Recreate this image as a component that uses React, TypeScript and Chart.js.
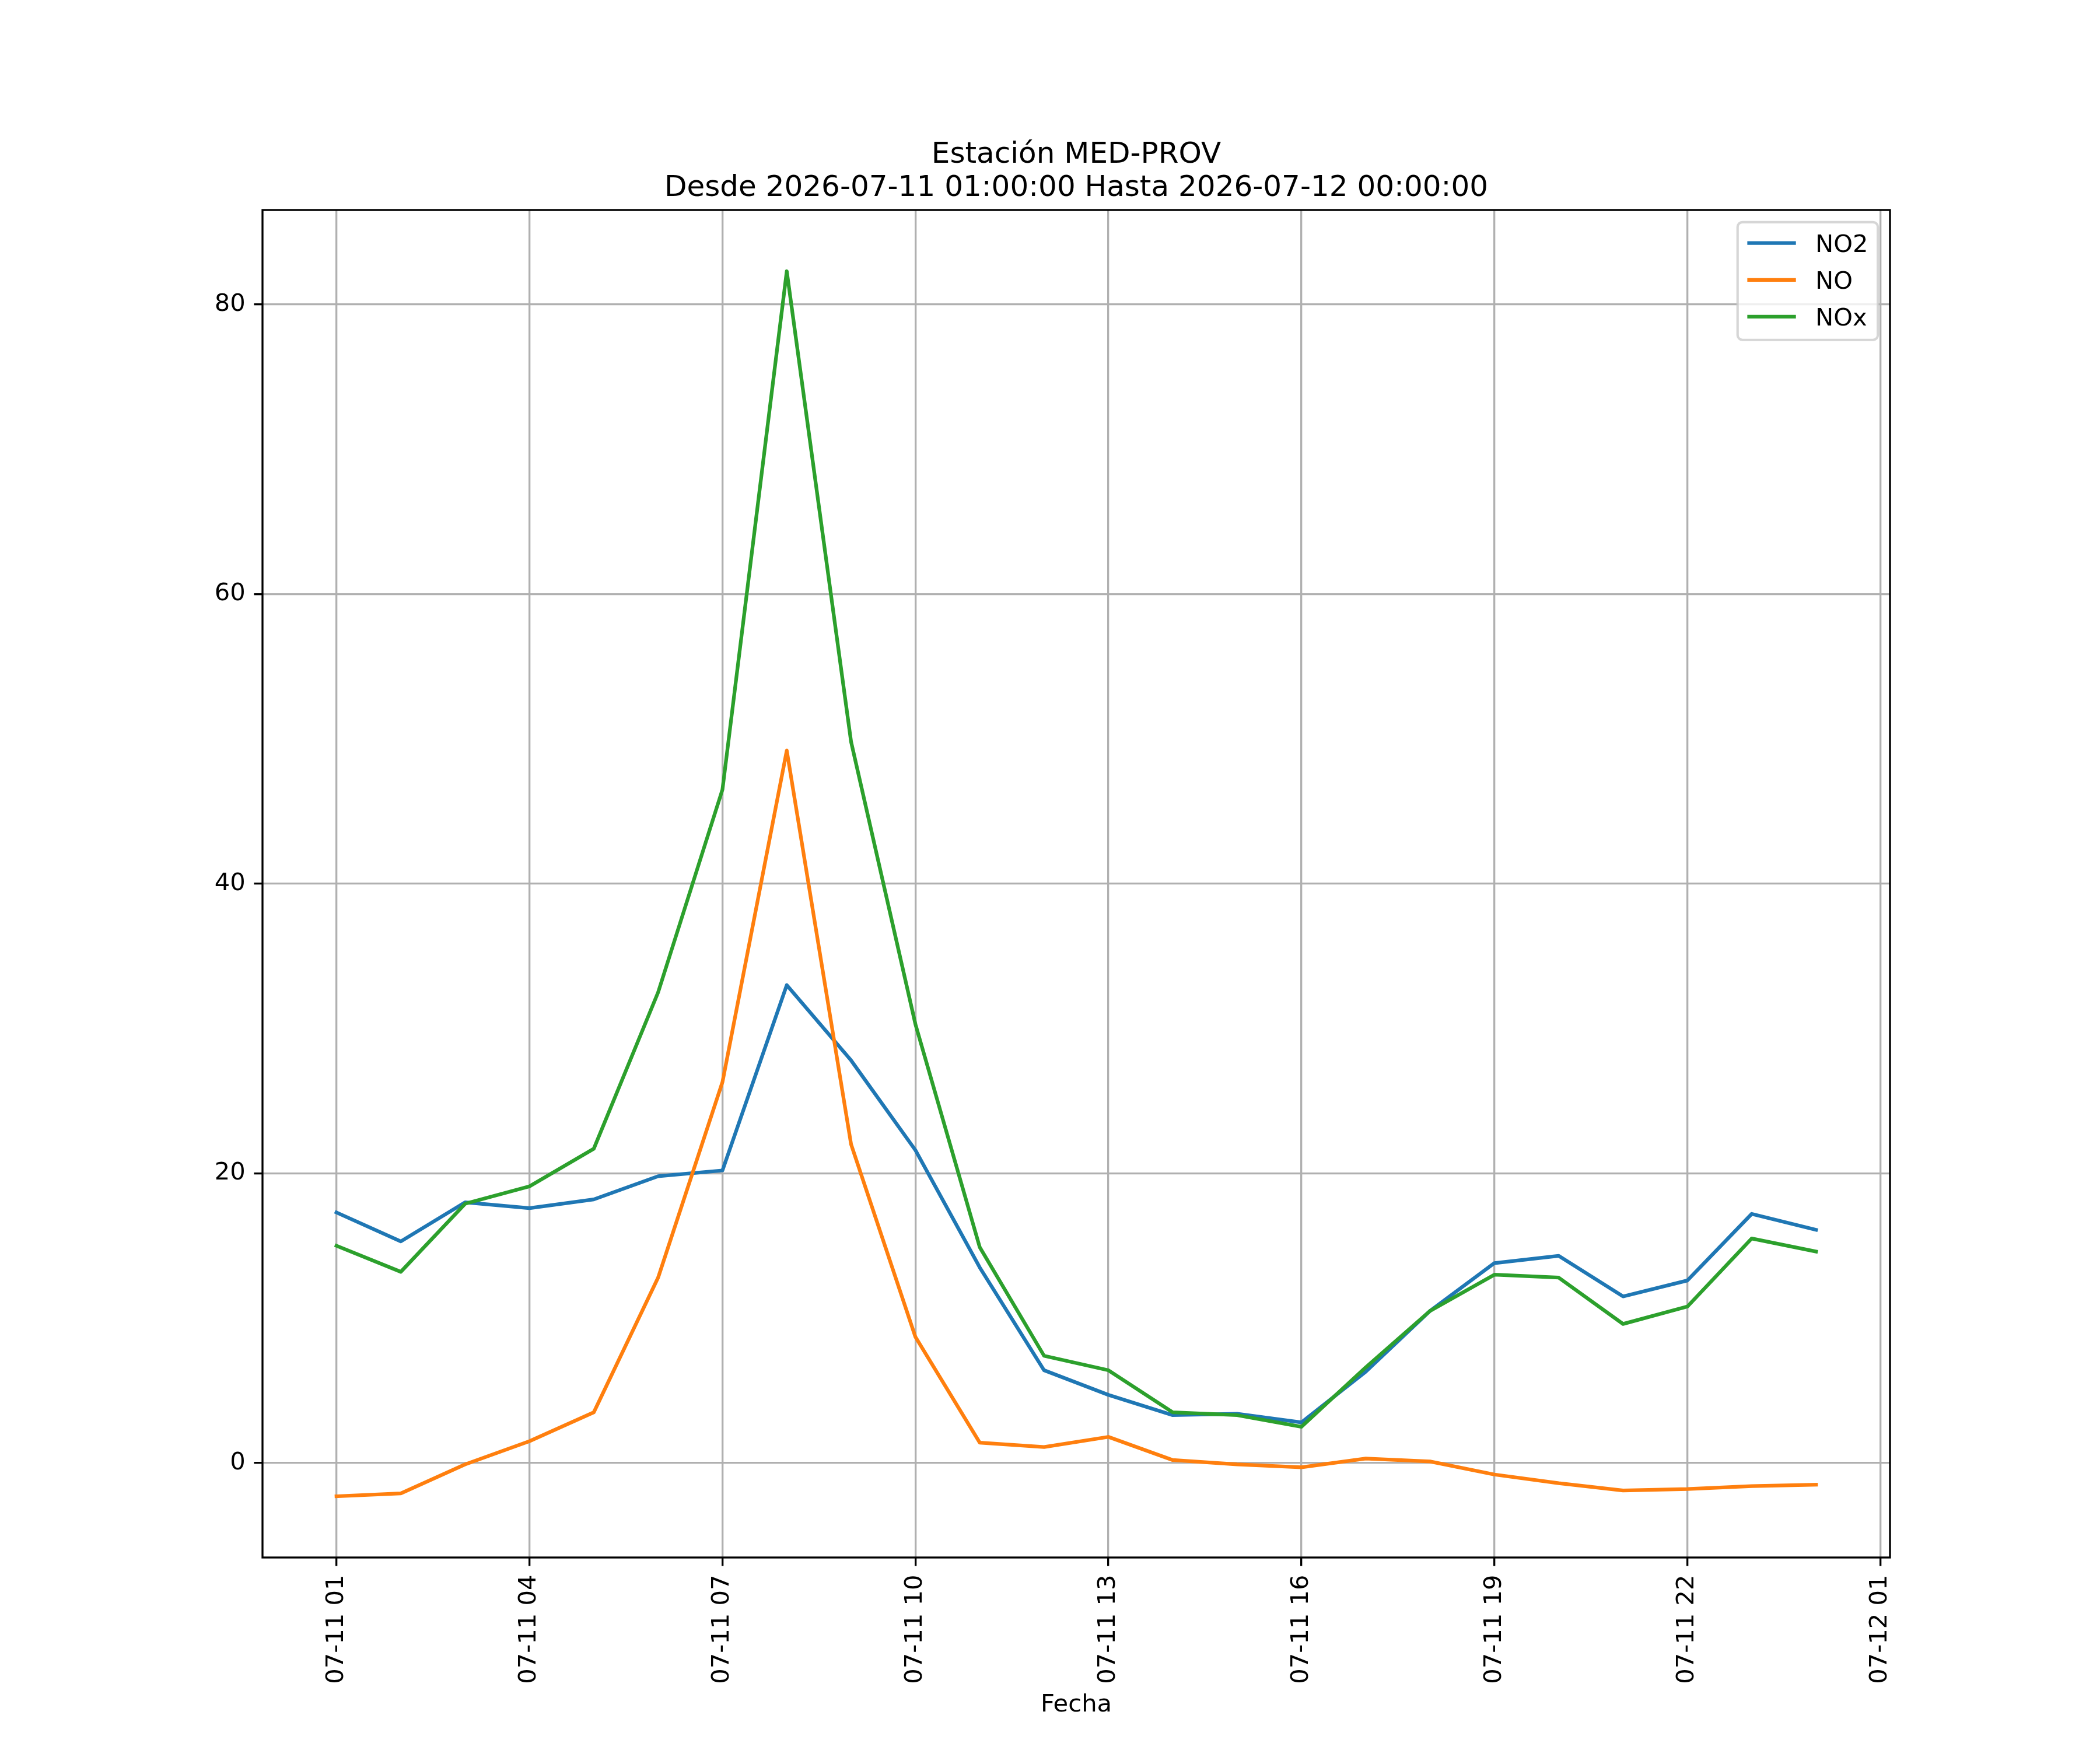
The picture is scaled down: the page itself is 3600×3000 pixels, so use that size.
import { useEffect, useRef } from 'react';
import { Chart, registerables } from 'chart.js';

Chart.register(...registerables);

// Hourly readings, hour of 2026-07-11 (24 = 07-12 00:00).
const hours = [1, 2, 3, 4, 5, 6, 7, 8, 9, 10, 11, 12, 13, 14, 15, 16, 17, 18, 19, 20, 21, 22, 23, 24];
const no2 = [17.3, 15.3, 18.0, 17.6, 18.2, 19.8, 20.2, 33.0, 27.8, 21.6, 13.5, 6.4, 4.7, 3.3, 3.4, 2.8, 6.3, 10.5, 13.8, 14.3, 11.5, 12.6, 17.2, 16.1];
const no = [-2.3, -2.1, -0.1, 1.5, 3.5, 12.8, 26.3, 49.2, 22.0, 8.7, 1.4, 1.1, 1.8, 0.2, -0.1, -0.3, 0.3, 0.1, -0.8, -1.4, -1.9, -1.8, -1.6, -1.5];
const nox = [15.0, 13.2, 17.9, 19.1, 21.7, 32.5, 46.5, 82.3, 49.8, 30.3, 14.9, 7.4, 6.4, 3.5, 3.3, 2.5, 6.6, 10.5, 13.0, 12.8, 9.6, 10.8, 15.5, 14.6];

const seriesLabels = ['NO2', 'NO', 'NOx'];
const seriesColors = ['#1f77b4', '#ff7f0e', '#2ca02c'];

const xTickHours = [1, 4, 7, 10, 13, 16, 19, 22, 25];
const xTickLabels = ['07-11 01', '07-11 04', '07-11 07', '07-11 10', '07-11 13', '07-11 16', '07-11 19', '07-11 22', '07-12 01'];
const yTicks = [0, 20, 40, 60, 80];

const titleLines = ['Estación MED-PROV', 'Desde 2026-07-11 01:00:00 Hasta 2026-07-12 00:00:00'];
const xTitle = 'Fecha';

// figure geometry (matplotlib-ish, 12x10 in at 300 dpi)
const FIG_W = 3600;
const FIG_H = 3000;
const PT = 300 / 72;
const FS = 10 * PT;
const FAMILY = '"DejaVu Sans", sans-serif';

const span = (a: number[]) => {
  const lo = Math.min(...a);
  const hi = Math.max(...a);
  const m = (hi - lo) * 0.05;
  return [lo - m, hi + m];
};

const mplDecor = {
  id: 'mplDecor',
  afterDatasetsDraw(chart: Chart) {
    const { ctx, chartArea: a } = chart;
    ctx.save();

    // all four spines
    ctx.strokeStyle = '#000';
    ctx.lineWidth = 0.8 * PT;
    ctx.strokeRect(a.left, a.top, a.right - a.left, a.bottom - a.top);

    // legend, upper right
    ctx.font = `${FS}px ${FAMILY}`;
    const bp = 0.4 * FS;
    const ls = 0.5 * FS;
    const hl = 2 * FS;
    const htp = 0.8 * FS;
    const rowH = 1.015 * FS;
    const tw = Math.max(...seriesLabels.map((s) => ctx.measureText(s).width));
    const w = 2 * bp + hl + htp + tw;
    const h = 2 * bp + seriesLabels.length * rowH + (seriesLabels.length - 1) * ls;
    const right = a.right - 0.5 * FS;
    const top = a.top + 0.5 * FS;
    const left = right - w;

    ctx.beginPath();
    ctx.roundRect(left, top, w, h, 0.2 * FS);
    ctx.fillStyle = 'rgba(255,255,255,0.8)';
    ctx.fill();
    ctx.strokeStyle = 'rgba(204,204,204,0.8)';
    ctx.lineWidth = 1.0 * PT;
    ctx.stroke();

    seriesLabels.forEach((label, i) => {
      const cy = top + bp + rowH / 2 + i * (rowH + ls) - 2;
      ctx.beginPath();
      ctx.moveTo(left + bp, cy);
      ctx.lineTo(left + bp + hl, cy);
      ctx.strokeStyle = seriesColors[i];
      ctx.lineWidth = 1.5 * PT;
      ctx.lineCap = 'butt';
      ctx.stroke();
      ctx.fillStyle = '#000';
      ctx.textAlign = 'left';
      ctx.textBaseline = 'alphabetic';
      ctx.fillText(label, left + bp + hl + htp, cy + 0.729 * FS / 2);
    });

    // two-line title above the axes
    ctx.font = `${12 * PT}px ${FAMILY}`;
    ctx.textAlign = 'center';
    ctx.fillStyle = '#000';
    const cx = (a.left + a.right) / 2;
    ctx.fillText(titleLines[1], cx, a.top - 24);
    ctx.fillText(titleLines[0], cx, a.top - 24 - 57);

    ctx.restore();
  },
};

export default function App() {
  const canvasRef = useRef<HTMLCanvasElement>(null);
  const chartRef = useRef<Chart | null>(null);

  useEffect(() => {
    if (!canvasRef.current) return;
    const [xMin, xMax] = span(hours);
    const [yMin, yMax] = span([...no2, ...no, ...nox]);
    const series = [no2, no, nox];

    const gridOpts = {
      color: '#b0b0b0',
      lineWidth: 0.8 * PT,
      drawTicks: true,
      tickLength: 3.5 * PT,
      tickColor: '#000',
      tickWidth: 0.8 * PT,
    };
    const font = { family: FAMILY, size: FS };

    chartRef.current = new Chart(canvasRef.current, {
      type: 'line',
      data: {
        datasets: series.map((vals, i) => ({
          label: seriesLabels[i],
          data: vals.map((v, j) => ({ x: hours[j], y: v })),
          borderColor: seriesColors[i],
          backgroundColor: seriesColors[i],
          borderWidth: 1.5 * PT,
          borderJoinStyle: 'round' as const,
          borderCapStyle: 'square' as const,
          pointRadius: 0,
          tension: 0,
          fill: false,
          order: series.length - i,
        })),
      },
      plugins: [mplDecor],
      options: {
        animation: false,
        responsive: false,
        devicePixelRatio: 1,
        layout: {
          padding: { left: 0, top: FIG_H * 0.12, right: FIG_W * 0.1, bottom: 0 },
        },
        plugins: {
          legend: { display: false },
          title: { display: false },
          tooltip: { enabled: false },
        },
        scales: {
          x: {
            type: 'linear',
            min: xMin,
            max: xMax,
            afterBuildTicks: (s: any) => {
              s.ticks = xTickHours.map((v) => ({ value: v }));
            },
            afterFit: (s: any) => {
              s.height = FIG_H * 0.11;
            },
            ticks: {
              autoSkip: false,
              minRotation: 90,
              maxRotation: 90,
              padding: 15,
              color: '#000',
              font,
              callback: (v: any) => xTickLabels[xTickHours.indexOf(Number(v))] ?? '',
            },
            grid: gridOpts,
            border: { display: false },
            title: {
              display: true,
              text: xTitle,
              color: '#000',
              font,
              padding: { top: 0, bottom: 52 },
            },
          },
          y: {
            type: 'linear',
            min: yMin,
            max: yMax,
            afterBuildTicks: (s: any) => {
              s.ticks = yTicks.map((v) => ({ value: v }));
            },
            afterFit: (s: any) => {
              s.width = FIG_W * 0.125;
            },
            ticks: {
              padding: 3.5 * PT,
              color: '#000',
              font,
              callback: (v: any) => String(v),
            },
            grid: gridOpts,
            border: { display: false },
          },
        },
      },
    });

    return () => {
      chartRef.current?.destroy();
    };
  }, []);

  return (
    <div style={{ position: 'absolute', left: 0, top: 0, width: FIG_W, height: FIG_H, background: '#fff' }}>
      <canvas
        ref={canvasRef}
        width={FIG_W}
        height={FIG_H}
        style={{ display: 'block', width: FIG_W, height: FIG_H }}
      />
    </div>
  );
}
